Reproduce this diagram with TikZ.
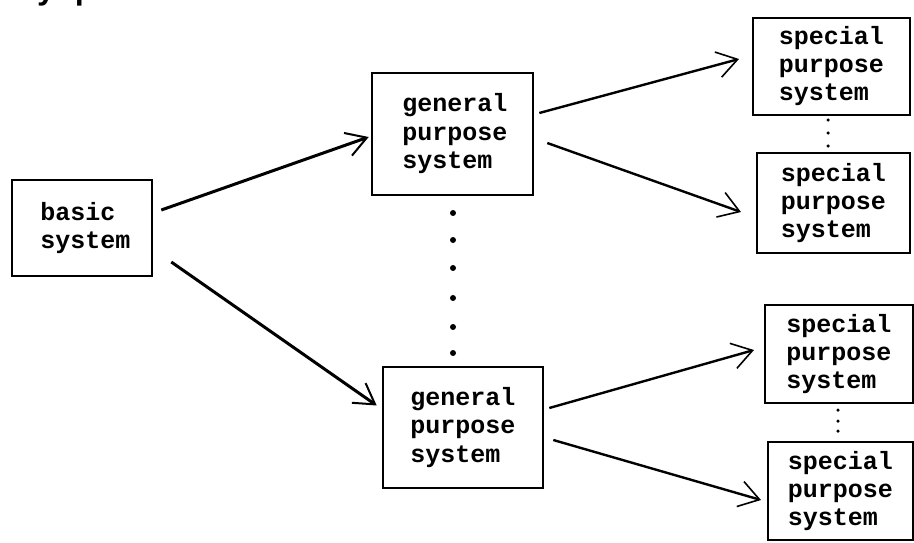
\documentclass[tikz,border=0pt]{standalone}
\usepackage{fontspec}
\usetikzlibrary{arrows.meta,calc}
\newfontfamily\tw{Liberation Mono}
\newfontfamily\twb{Liberation Mono Bold}
\begin{document}
\begin{tikzpicture}[x=1pt,y=-1pt,
  heavybox/.style={draw,line width=2.6pt,inner sep=0pt,align=left,
    font=\twb\fontsize{25}{28.5}\selectfont},
  lightbox/.style={draw,line width=2pt,inner sep=0pt,align=left,
    font=\twb\fontsize{25}{28}\selectfont},
  bigarrow/.style={line width=3pt,-{Straight Barb[length=20pt,width=24pt,line width=2pt]}},
  smallarrow/.style={line width=2.4pt,-{Straight Barb[length=20pt,width=26pt,line width=1.6pt]}},
  bigdot/.style={fill,circle,inner sep=0pt,minimum size=6pt},
  smalldot/.style={fill,circle,inner sep=0pt,minimum size=3.5pt}]
\useasboundingbox (0,0) rectangle (914,542);
\clip (0,0) rectangle (914,542);
\fill[white] (0,0) rectangle (914,542);
% cut-off line of text at the top
\node[anchor=base west,inner sep=0pt,font=\twb\fontsize{32}{32}\selectfont] (top) at (-2,-1) {rly process};
% boxes
\node[heavybox,minimum width=140pt,minimum height=96pt] (basic) at (82,228) {\hspace*{7pt}basic\\\hspace*{7pt}system};
\node[heavybox,minimum width=161pt,minimum height=122pt] (g1) at (452.5,134) {\hspace*{5pt}general\\\hspace*{5pt}purpose\\\hspace*{5pt}system};
\node[heavybox,minimum width=160pt,minimum height=121pt] (g2) at (463,427.5) {general\\purpose\\system};
\node[lightbox,minimum width=157pt,minimum height=97pt] (s1) at (831.5,66.5) {special\\purpose\\system};
\node[lightbox,minimum width=153pt,minimum height=100pt] (s2) at (833.5,203) {special\\purpose\\system};
\node[lightbox,minimum width=148pt,minimum height=98pt] (s3) at (839,354) {special\\purpose\\system};
\node[lightbox,minimum width=145pt,minimum height=98pt] (s4) at (840.5,491) {special\\purpose\\system};
% arrows
\draw[bigarrow] ($(basic.east)+(8,-18)$) -- ($(g1.west)+(-2,3)$);
\draw[bigarrow] ($(basic.east)+(18,34)$) -- ($(g2.west)+(-5,-22)$);
\draw[smallarrow] ($(g1.east)+(5,-21)$) -- ($(s1.west)+(-13,-7.5)$);
\draw[smallarrow] ($(g1.east)+(13,9)$) -- ($(s2.west)+(-15,9)$);
\draw[smallarrow] ($(g2.east)+(5,-19.5)$) -- ($(s3.west)+(-10,-4)$);
\draw[smallarrow] ($(g2.east)+(9,12.5)$) -- ($(s4.west)+(-6,9)$);
% dots
\foreach \y in {213,240,268,298,327,353} \node[bigdot] at (453,\y) {};
\foreach \y in {120,133,146} \node[smalldot] at (828,\y) {};
\foreach \y in {410,421,431} \node[smalldot] at (838,\y) {};
\end{tikzpicture}
\end{document}
